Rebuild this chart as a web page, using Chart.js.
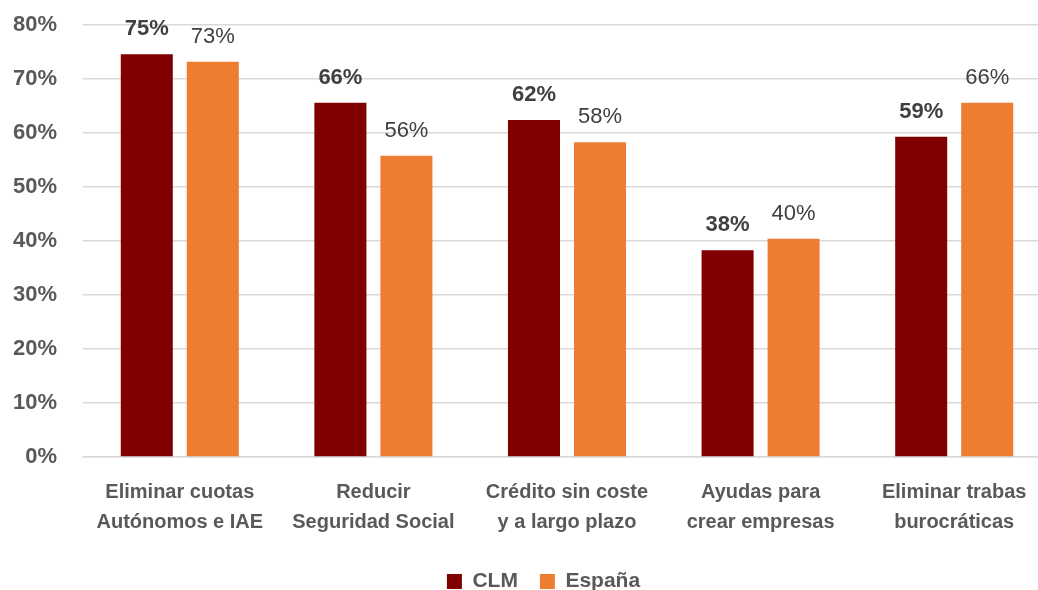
<!DOCTYPE html>
<html>
<head>
<meta charset="utf-8">
<script src="https://cdn.jsdelivr.net/npm/chart.js@4"></script>
<style>
  html, body { margin: 0; padding: 0; background: #fff; overflow: hidden; }
  .wrap { position: relative; width: 1051px; height: 590px; }
</style>
</head>
<body>
<div class="wrap"><canvas id="encuestaChart"></canvas></div>
<script>
// medidas propuestas (% de respuestas)
const categorias = [
    ['Eliminar cuotas', 'Autónomos e IAE'],
    ['Reducir', 'Seguridad Social'],
    ['Crédito sin coste', 'y a largo plazo'],
    ['Ayudas para', 'crear empresas'],
    ['Eliminar trabas', 'burocráticas']
];
const valoresCLM = [74.6, 65.6, 62.4, 38.3, 59.3];
const valoresEspana = [73.2, 55.8, 58.3, 40.4, 65.6];
const ticksY = [0, 10, 20, 30, 40, 50, 60, 70, 80];

const FUENTE = "'Liberation Sans', Arial, sans-serif";

// etiquetas de valor encima de cada barra
const etiquetasBarras = {
    id: 'etiquetasBarras',
    afterDatasetsDraw(chart) {
        const c = chart.ctx;
        chart.data.datasets.forEach((ds, i) => {
            const meta = chart.getDatasetMeta(i);
            meta.data.forEach((bar, j) => {
                c.save();
                c.font = (i === 0 ? 'bold ' : '') + '22px ' + FUENTE;
                c.fillStyle = '#404040';
                c.textAlign = 'center';
                c.textBaseline = 'alphabetic';
                c.fillText(Math.round(ds.data[j]) + '%', bar.x, bar.y - 19);
                c.restore();
            });
        });
    }
};

// desplaza la leyenda un poco a la derecha
const moverLeyenda = {
    id: 'moverLeyenda',
    afterLayout(chart) {
        chart.legend.left += 18;
        chart.legend.right += 18;
    }
};

const ctx = document.getElementById('encuestaChart').getContext('2d');
new Chart(ctx, {
    type: 'bar',
    data: {
        labels: categorias,
        datasets: [
            { label: 'CLM', data: valoresCLM, backgroundColor: '#800000', borderWidth: 0 },
            { label: 'España', data: valoresEspana, backgroundColor: '#ED7D31', borderWidth: 0 }
        ]
    },
    options: {
        responsive: true,
        maintainAspectRatio: false,
        animation: false,
        categoryPercentage: 0.682,
        barPercentage: 0.788,
        layout: { padding: { top: 25, left: 0, right: 0, bottom: -12 } },
        scales: {
            x: {
                grid: { display: false },
                border: { color: '#d9d9d9', width: 1.5 },
                ticks: {
                    color: '#595959',
                    font: { family: FUENTE, size: 20, weight: 'bold', lineHeight: 1.5 },
                    padding: 12,
                    maxRotation: 0,
                    autoSkip: false
                }
            },
            y: {
                min: 0,
                max: 80,
                afterBuildTicks: (s) => { s.ticks = ticksY.map(v => ({ value: v })); },
                // ancho fijo del eje y sin margen extra arriba/abajo
                afterFit: (s) => { s.width = 83; s.paddingTop = 0; s.paddingBottom = 0; },
                grid: { color: '#d9d9d9', lineWidth: 1.5, drawTicks: false },
                border: { display: false },
                ticks: {
                    color: '#595959',
                    font: { family: FUENTE, size: 22, weight: 'bold' },
                    padding: 26,
                    callback: (v) => v + '%'
                }
            }
        },
        plugins: {
            legend: {
                position: 'bottom',
                labels: {
                    color: '#595959',
                    font: { family: FUENTE, size: 21, weight: 'bold' },
                    boxWidth: 15,
                    boxHeight: 15,
                    padding: 22
                }
            },
            tooltip: { enabled: false }
        }
    },
    plugins: [etiquetasBarras, moverLeyenda]
});
</script>
</body>
</html>
